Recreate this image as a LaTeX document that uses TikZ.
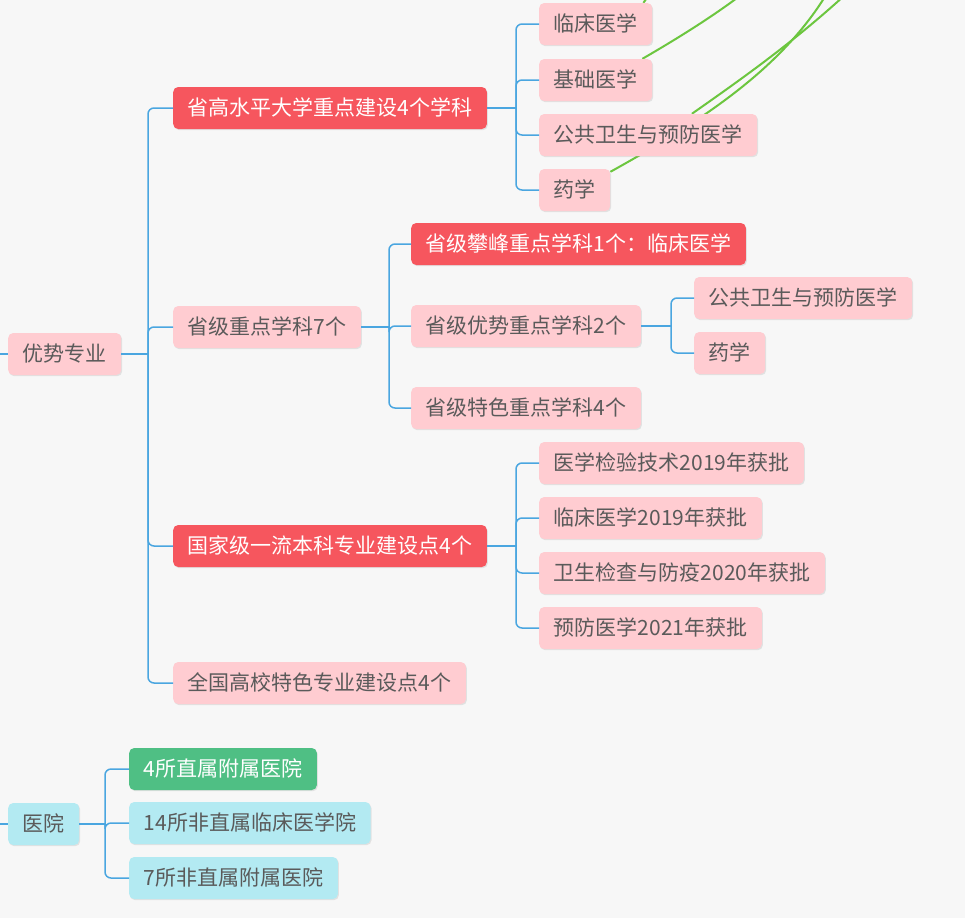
\documentclass[tikz,border=0pt]{standalone}
\usepackage{fontspec}
\newfontfamily\cjkfont{Noto Sans CJK SC}
\usepackage{tikz}
\usetikzlibrary{calc,shadows}

\definecolor{bgray}{HTML}{F7F7F7}
\definecolor{pinkfill}{HTML}{FFCCD1}
\definecolor{redfill}{HTML}{F6565E}
\definecolor{cyanfill}{HTML}{B3EAF2}
\definecolor{greenfill}{HTML}{4FBF84}
\definecolor{linkblue}{HTML}{4AA6E0}
\definecolor{curvegreen}{HTML}{6CC63F}
\definecolor{txtgray}{HTML}{5A5A5A}

\pgfdeclarelayer{back}
\pgfdeclarelayer{links}
\pgfsetlayers{back,links,main}

\begin{document}
\begin{tikzpicture}[x=1pt,y=-1pt,
  box/.style={anchor=west,rounded corners=5pt,inner xsep=14.5pt,inner ysep=0pt,
    minimum height=42pt,text height=18pt,text depth=3pt,
    font=\cjkfont\fontsize{21}{24}\selectfont,
    drop shadow={shadow xshift=1pt,shadow yshift=-1.2pt,opacity=0.18}},
  pinkbox/.style={box,fill=pinkfill,text=txtgray},
  redbox/.style={box,fill=redfill,text=white},
  cyanbox/.style={box,fill=cyanfill,text=txtgray},
  greenbox/.style={box,fill=greenfill,text=white},
  branch/.style={linkblue,line width=1.5pt,rounded corners=6pt},
  rel/.style={curvegreen,line width=2pt}]
  \useasboundingbox (0,0) rectangle (965,918);
  \begin{pgfonlayer}{back}
    \fill[bgray] (0,0) rectangle (965,918);
  \end{pgfonlayer}

  \node[pinkbox] (adv) at (8,354) {优势专业};
  \node[redbox] (high) at (173,108) {省高水平大学重点建设4个学科};
  \node[pinkbox] (prov) at (173,327) {省级重点学科7个};
  \node[redbox] (natl) at (173,546) {国家级一流本科专业建设点4个};
  \node[pinkbox] (feat) at (173,683) {全国高校特色专业建设点4个};

  \foreach \n/\y/\t in {hcl/24/临床医学,hjc/80/基础医学,hgw/135/公共卫生与预防医学,hyx/190/药学}
    \node[pinkbox] (\n) at (539,\y) {\t};

  \node[redbox] (ppf) at (411,244) {省级攀峰重点学科1个：临床医学};
  \node[pinkbox] (pys) at (411,326) {省级优势重点学科2个};
  \node[pinkbox] (pts) at (411,408) {省级特色重点学科4个};
  \node[pinkbox] (ygw) at (694,298) {公共卫生与预防医学};
  \node[pinkbox] (yyx) at (694,353) {药学};

  \foreach \n/\y/\t in {nyj/463/医学检验技术2019年获批,nlc/518/临床医学2019年获批,
      nws/573/卫生检查与防疫2020年获批,nyf/628/预防医学2021年获批}
    \node[pinkbox] (\n) at (539,\y) {\t};

  \node[cyanbox] (hosp) at (8,824) {医院};
  \node[greenbox] (hs1) at (129,769) {4所直属附属医院};
  \node[cyanbox] (hs2) at (129,823) {14所非直属临床医学院};
  \node[cyanbox] (hs3) at (129,878) {7所非直属附属医院};

  \coordinate (in1) at (0,354);
  \coordinate (in2) at (0,824);
  \coordinate (sp0) at (148,0);
  \coordinate (sp1) at (516,0);
  \coordinate (sp2) at (389,0);
  \coordinate (sp3) at (671,0);
  \coordinate (sp5) at (105,0);

  \draw[branch] (in1) -- (adv.west);
  \draw[branch] (in2) -- (hosp.west);
  \draw[branch] (adv.east) -- (adv.east -| sp0);
  \foreach \c in {high,prov,natl,feat}
    \draw[branch] (adv.east -| sp0) |- (\c.west);
  \draw[branch] (high.east) -- (high.east -| sp1);
  \foreach \c in {hcl,hjc,hgw,hyx}
    \draw[branch] (high.east -| sp1) |- (\c.west);
  \draw[branch] (prov.east) -- (prov.east -| sp2);
  \foreach \c in {ppf,pys,pts}
    \draw[branch] (prov.east -| sp2) |- (\c.west);
  \draw[branch] (pys.east) -- (pys.east -| sp3);
  \foreach \c in {ygw,yyx}
    \draw[branch] (pys.east -| sp3) |- (\c.west);
  \draw[branch] (natl.east) -- (natl.east -| sp1);
  \foreach \c in {nyj,nlc,nws,nyf}
    \draw[branch] (natl.east -| sp1) |- (\c.west);
  \draw[branch] (hosp.east) -- (hosp.east -| sp5);
  \foreach \c in {hs1,hs2,hs3}
    \draw[branch] (hosp.east -| sp5) |- (\c.west);

  \coordinate (e1) at (649,-5);
  \coordinate (e2) at (745,-8);
  \coordinate (e3) at (826,-5);
  \coordinate (e4) at (845,-5);
  \begin{pgfonlayer}{links}
    \begin{scope}
      \clip (0,0) rectangle (965,918);
      \draw[rel] ([xshift=-9pt]hcl.north east) -- (e1);
      \draw[rel] ([xshift=-10pt]hjc.north east) .. controls (680,37) and (715,15) .. (e2);
      \draw[rel] ([yshift=-3pt]hyx.north east) .. controls (700,122) and (780,70) .. (e3);
      \draw[rel] ($(hgw.north west)!0.7!(hgw.north east)$) .. controls (740,80) and (790,45) .. (e4);
    \end{scope}
  \end{pgfonlayer}
\end{tikzpicture}
\end{document}
